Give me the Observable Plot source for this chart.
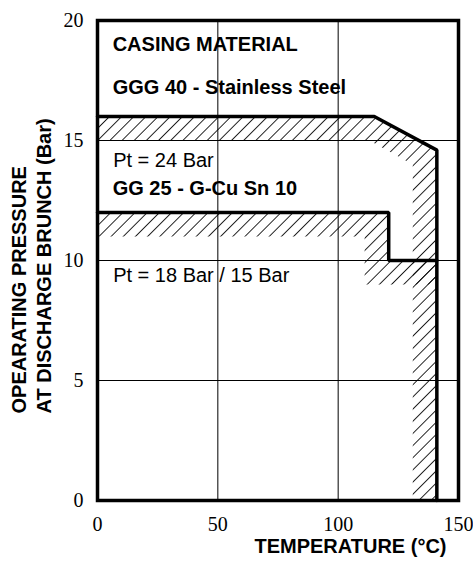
<!DOCTYPE html>
<html><head><meta charset="utf-8">
<script src="https://cdn.jsdelivr.net/npm/d3@7"></script>
<script src="https://cdn.jsdelivr.net/npm/@observablehq/plot@0.6"></script>
<style>body{margin:0;background:#fff}</style>
</head><body><div id="chart"></div>
<script>
const xTicks = [0, 50, 100, 150];
const yTicks = [0, 5, 10, 15, 20];
const xGrid = [50, 100];
const yGrid = [5, 10, 15];
// GGG 40 - Stainless Steel limit curve (temperature °C, pressure bar)
const ggg40Temp = [0, 115, 141, 141];
const ggg40Pres = [16, 16, 14.6, 0];
// GG 25 - G-Cu Sn 10 limit curve
const gg25Temp = [0, 121, 121, 141];
const gg25Pres = [12, 12, 10, 10];
// hatched (forbidden side) zones
const hatch40Temp = [0, 115, 141, 141, 131, 131, 113, 0];
const hatch40Pres = [16, 16, 14.6, 0, 0, 14.0, 15, 15];
const hatch25Temp = [0, 121, 121, 141, 141, 111, 111, 0];
const hatch25Pres = [12, 12, 10, 10, 9, 9, 11, 11];
// annotations
const boldLabels = ["CASING MATERIAL", "GGG 40 - Stainless Steel", "GG 25 - G-Cu Sn 10"];
const boldLabelTemp = [6.3, 6.3, 6.3];
const boldLabelPres = [18.98, 17.2, 12.98];
const plainLabels = ["Pt = 24 Bar", "Pt = 18 Bar / 15 Bar"];
const plainLabelTemp = [6.5, 6.5];
const plainLabelPres = [14.15, 9.38];
const xTitle = "TEMPERATURE (°C)";
const yTitle = "OPEARATING PRESSURE\nAT DISCHARGE BRUNCH (Bar)";

const pts = (xs, ys) => xs.map((x, i) => ({x, y: ys[i]}));
const lbl = (ts, xs, ys) => ts.map((t, i) => ({t, x: xs[i], y: ys[i]}));

const defsMark = () => {
  const defs = d3.create("svg:defs");
  const p = defs.append("pattern")
    .attr("id", "hatch")
    .attr("patternUnits", "userSpaceOnUse")
    .attr("width", 8.6).attr("height", 8.6)
    .attr("patternTransform", "rotate(45)");
  p.append("line").attr("x1", 4.3).attr("x2", 4.3).attr("y1", -1).attr("y2", 10)
    .attr("stroke", "black").attr("stroke-width", 0.85);
  return defs.node();
};

const chart = Plot.plot({
  width: 473, height: 563,
  marginLeft: 97, marginRight: 15, marginTop: 20, marginBottom: 63,
  x: {domain: [0, 150]},
  y: {domain: [0, 20]},
  style: {fontFamily: "'Liberation Sans', Arial, sans-serif", fontSize: "20px", background: "white", color: "black", overflow: "visible"},
  marks: [
    defsMark,
    Plot.line(pts(hatch40Temp, hatch40Pres), {x: "x", y: "y", fill: "url(#hatch)", stroke: "none"}),
    Plot.line(pts(hatch25Temp, hatch25Pres), {x: "x", y: "y", fill: "url(#hatch)", stroke: "none"}),
    Plot.gridX(xGrid, {stroke: "black", strokeOpacity: 1, strokeWidth: 1}),
    Plot.gridY(yGrid, {stroke: "black", strokeOpacity: 1, strokeWidth: 1}),
    Plot.axisX(xTicks, {tickSize: 0, tickPadding: 16, fontFamily: "'Liberation Serif', 'Times New Roman', serif", fontSize: 20, label: null}),
    Plot.axisY(yTicks, {tickSize: 0, tickPadding: 14, fontFamily: "'Liberation Serif', 'Times New Roman', serif", fontSize: 20, label: null}),
    Plot.line(pts(ggg40Temp, ggg40Pres), {x: "x", y: "y", stroke: "black", strokeWidth: 3.5, strokeLinejoin: "miter"}),
    Plot.line(pts(gg25Temp, gg25Pres), {x: "x", y: "y", stroke: "black", strokeWidth: 3.5, strokeLinejoin: "miter"}),
    Plot.frame({stroke: "black", strokeWidth: 3.5}),
    Plot.text(lbl(boldLabels, boldLabelTemp, boldLabelPres), {x: "x", y: "y", text: "t", textAnchor: "start", fontWeight: "bold", fontSize: 20}),
    Plot.text(lbl(plainLabels, plainLabelTemp, plainLabelPres), {x: "x", y: "y", text: "t", textAnchor: "start", fontSize: 20}),
    Plot.text([xTitle], {text: d => d, frameAnchor: "bottom-right", textAnchor: "end", dx: -12, dy: 52, fontWeight: "bold", fontSize: 20}),
    Plot.text([yTitle], {text: d => d, frameAnchor: "bottom-left", textAnchor: "start", rotate: -90, lineHeight: 1.25, dx: -47, dy: -87, fontWeight: "bold", fontSize: 20})
  ]
});
document.getElementById("chart").appendChild(chart);
</script>
</body></html>
